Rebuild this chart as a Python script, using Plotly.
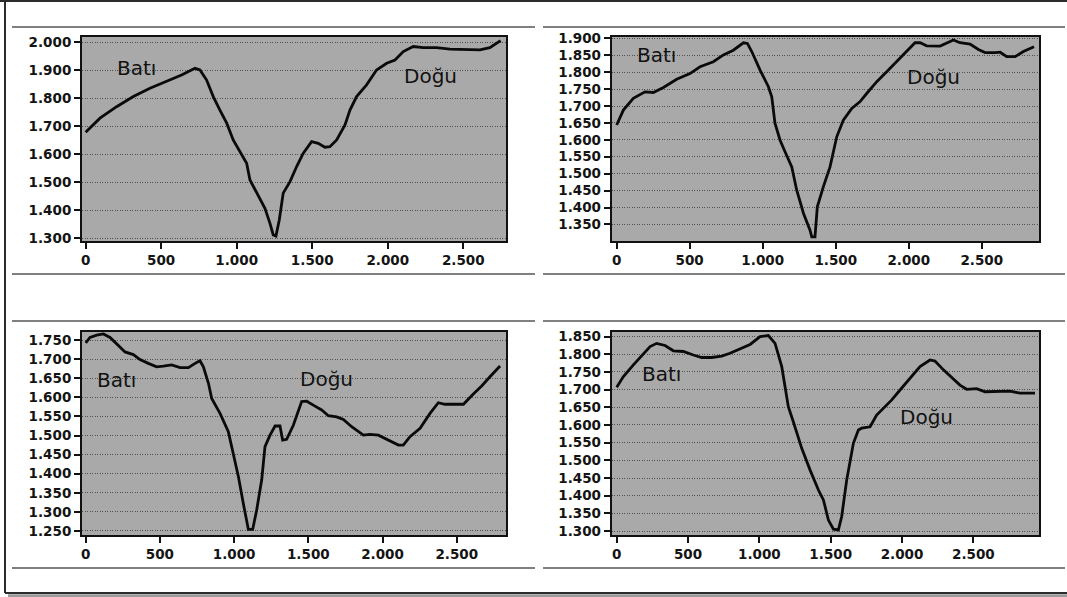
import plotly.graph_objects as go

# ---------------- data (distance m, elevation m) ----------------
p1_x = [0, 95, 205, 316, 426, 536, 635, 724, 757, 801, 845, 889, 934, 977, 1066, 1088, 1132, 1187, 1220, 1242,
        1260, 1282, 1308, 1353, 1397, 1441, 1496, 1540, 1584, 1617, 1662, 1717, 1750, 1794, 1860, 1926, 1993,
        2048, 2103, 2169, 2235, 2323, 2412, 2522, 2610, 2676, 2721, 2747]
p1_y = [1679, 1729, 1770, 1806, 1836, 1860, 1883, 1907, 1901, 1865, 1806, 1758, 1711, 1651, 1568, 1508, 1461,
        1407, 1354, 1312, 1308, 1365, 1461, 1502, 1556, 1604, 1645, 1639, 1625, 1627, 1651, 1705, 1758, 1806,
        1848, 1901, 1925, 1937, 1967, 1985, 1981, 1981, 1976, 1973, 1973, 1981, 1996, 2006]

p2_x = [0, 46, 114, 194, 251, 320, 411, 502, 571, 662, 731, 799, 868, 895, 925, 982, 1039, 1062, 1084, 1119,
        1153, 1199, 1233, 1279, 1324, 1336, 1358, 1374, 1415, 1461, 1507, 1552, 1610, 1667, 1712, 1781, 1849,
        1918, 1986, 2043, 2078, 2123, 2215, 2260, 2306, 2351, 2420, 2477, 2523, 2591, 2626, 2671, 2728, 2785,
        2858]
p2_y = [1644, 1688, 1723, 1742, 1740, 1755, 1779, 1796, 1816, 1831, 1851, 1865, 1887, 1885, 1861, 1806, 1757,
        1727, 1649, 1599, 1565, 1520, 1451, 1383, 1333, 1313, 1313, 1402, 1461, 1520, 1609, 1658, 1693, 1713,
        1737, 1772, 1801, 1831, 1861, 1887, 1887, 1878, 1877, 1887, 1895, 1887, 1883, 1867, 1858, 1858, 1859,
        1846, 1846, 1861, 1875]

p3_x = [0, 29, 74, 119, 164, 209, 265, 321, 366, 422, 478, 523, 579, 636, 692, 737, 770, 793, 827, 849, 905,
        961, 984, 1029, 1062, 1096, 1125, 1152, 1186, 1208, 1242, 1276, 1309, 1327, 1354, 1399, 1455, 1489,
        1545, 1590, 1635, 1691, 1736, 1792, 1871, 1916, 1972, 2028, 2107, 2140, 2185, 2253, 2320, 2376, 2421,
        2489, 2545, 2612, 2668, 2724, 2792]
p3_y = [1743, 1757, 1763, 1766, 1757, 1741, 1719, 1712, 1699, 1689, 1680, 1682, 1685, 1678, 1678, 1689, 1696,
        1680, 1637, 1597, 1558, 1510, 1471, 1392, 1322, 1254, 1254, 1305, 1384, 1471, 1501, 1525, 1525, 1488,
        1490, 1527, 1589, 1590, 1577, 1567, 1552, 1549, 1542, 1523, 1501, 1503, 1501, 1490, 1475, 1475, 1497,
        1519, 1558, 1586, 1582, 1582, 1582, 1609, 1630, 1654, 1682]

p4_x = [0, 47, 117, 187, 234, 280, 339, 397, 467, 537, 596, 666, 736, 794, 853, 935, 1005, 1063, 1110, 1157,
        1180, 1203, 1238, 1297, 1355, 1414, 1449, 1484, 1519, 1554, 1577, 1612, 1659, 1694, 1717, 1776, 1822,
        1869, 1928, 1986, 2056, 2126, 2196, 2231, 2290, 2348, 2406, 2453, 2523, 2582, 2664, 2757, 2827, 2932]
p4_y = [1707, 1737, 1770, 1803, 1822, 1831, 1825, 1810, 1808, 1798, 1791, 1791, 1795, 1803, 1814, 1828, 1850,
        1853, 1831, 1765, 1708, 1652, 1609, 1534, 1473, 1416, 1388, 1331, 1305, 1303, 1341, 1444, 1548, 1586,
        1591, 1595, 1628, 1647, 1671, 1699, 1732, 1765, 1784, 1781, 1756, 1735, 1713, 1701, 1703, 1694, 1694,
        1696, 1690, 1690]

label_west = "Batı"
label_east = "Doğu"
# label positions (x, y) for west / east in each panel
west_pos = [(340, 1908), (274, 1851), (209, 1645), (315, 1744)]
east_pos = [(2280, 1880), (2168, 1786), (1624, 1647), (2172, 1622)]

y_dticks = [100, 50, 50, 50]
x_ranges = [[-24, 2783], [-34, 2892], [-25, 2832], [-35, 2960]]
y_ranges = [[1290, 2019], [1301, 1904], [1239.5, 1772], [1288.7, 1864]]

# ---------------- layout geometry ----------------
W, H = 1067, 597
def fx(px):
    return px / W
def fy(py):
    return 1 - py / H

x_domains = [[fx(82), fx(506)], [fx(611.7), fx(1039)], [fx(82), fx(506)], [fx(611.7), fx(1039)]]
y_domains = [[fy(241), fy(37)], [fy(241), fy(37)], [fy(535), fy(331.7)], [fy(535), fy(331.7)]]

fig = go.Figure()
series = [(p1_x, p1_y), (p2_x, p2_y), (p3_x, p3_y), (p4_x, p4_y)]

tick_font = dict(family="DejaVu Sans", size=13.5, color="#141414", weight="bold")
layout_axes = {}
for i, (xs, ys) in enumerate(series):
    n = "" if i == 0 else str(i + 1)
    fig.add_trace(go.Scatter(x=xs, y=ys, mode="lines",
                             line=dict(color="#0a0a0a", width=2.8),
                             xaxis="x" + n, yaxis="y" + n, showlegend=False,
                             hoverinfo="skip"))
    layout_axes["xaxis" + n] = dict(
        domain=x_domains[i], range=x_ranges[i], anchor="y" + n, automargin=False,
        tickmode="linear", tick0=0, dtick=500, tickformat=",d",
        showgrid=False, zeroline=False,
        showline=True, linecolor="#111111", linewidth=2, mirror=True,
        ticks="outside", ticklen=6, tickwidth=1.5, tickcolor="#111111",
        tickfont=tick_font,
    )
    layout_axes["yaxis" + n] = dict(
        domain=y_domains[i], range=y_ranges[i], anchor="x" + n, automargin=False,
        tickmode="linear", tick0=0, dtick=y_dticks[i], tickformat=",d",
        showgrid=True, gridcolor="#505050", gridwidth=1, griddash="1px,1.5px",
        zeroline=False,
        showline=True, linecolor="#111111", linewidth=2, mirror=True,
        ticks="outside", ticklen=6, tickwidth=1.5, tickcolor="#111111",
        tickfont=tick_font,
    )

annotations = []
for i in range(4):
    n = "" if i == 0 else str(i + 1)
    for txt, pos in ((label_west, west_pos[i]), (label_east, east_pos[i])):
        annotations.append(dict(x=pos[0], y=pos[1], xref="x" + n, yref="y" + n,
                                text=txt, showarrow=False,
                                font=dict(family="DejaVu Sans", size=20, color="#111111")))

shapes = []
# plot area backgrounds
for i in range(4):
    shapes.append(dict(type="rect", xref="paper", yref="paper", layer="below",
                       x0=x_domains[i][0], x1=x_domains[i][1],
                       y0=y_domains[i][0], y1=y_domains[i][1],
                       fillcolor="#a9a9a9", line=dict(width=0)))
# horizontal rules around each panel
rule = dict(color="#808080", width=2)
for (x0, x1) in ((12, 535), (543, 1065)):
    for yy in (27, 274, 321, 568):
        shapes.append(dict(type="line", xref="paper", yref="paper",
                           x0=fx(x0), x1=fx(x1), y0=fy(yy), y1=fy(yy), line=rule))
# outer frame
frame = dict(color="#2b2b2b", width=2)
shapes.append(dict(type="line", xref="paper", yref="paper", x0=0, x1=1, y0=fy(1), y1=fy(1), line=frame))
shapes.append(dict(type="line", xref="paper", yref="paper", x0=fx(5), x1=fx(5), y0=fy(0), y1=fy(593), line=frame))
shapes.append(dict(type="line", xref="paper", yref="paper", x0=fx(5), x1=1, y0=fy(593), y1=fy(593), line=frame))
shapes.append(dict(type="rect", xref="paper", yref="paper", x0=fx(8), x1=1, y0=fy(597), y1=fy(594.2),
                   fillcolor="#9a9a9a", line=dict(width=0)))

fig.update_layout(
    width=W, height=H,
    margin=dict(l=0, r=0, t=0, b=0, pad=0, autoexpand=False),
    paper_bgcolor="white", plot_bgcolor="rgba(0,0,0,0)",
    separators=",.",
    annotations=annotations, shapes=shapes,
    **layout_axes,
)

post = (
    "document.documentElement.style.margin='0';"
    "document.body.style.margin='0';"
    "document.body.style.overflow='hidden';"
)
fig.write_html("out.html", config={"displayModeBar": False}, post_script=post)
